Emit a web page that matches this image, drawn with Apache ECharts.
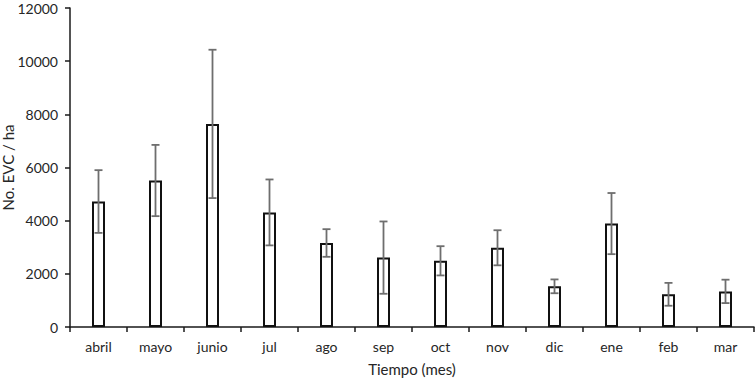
<!DOCTYPE html>
<html>
<head>
<meta charset="utf-8">
<script src="https://cdn.jsdelivr.net/npm/echarts@6/dist/echarts.min.js"></script>
<style>
  html, body { margin: 0; padding: 0; background: #fff; }
  #chart { width: 756px; height: 378px; }
</style>
</head>
<body>
<div id="chart"></div>
<script>
var months = ['abril', 'mayo', 'junio', 'jul', 'ago', 'sep', 'oct', 'nov', 'dic', 'ene', 'feb', 'mar'];
var means = [4720, 5510, 7640, 4310, 3160, 2610, 2490, 2980, 1530, 3890, 1230, 1340];
var errs = [1180, 1340, 2790, 1240, 520, 1360, 550, 660, 260, 1150, 430, 440];
var yTicks = [0, 2000, 4000, 6000, 8000, 10000, 12000];

var font = 'Lato, "Noto Sans", sans-serif';
var chart = echarts.init(document.getElementById('chart'), null, { renderer: 'svg' });

chart.setOption({
  animation: false,
  grid: { left: 70, right: 2, top: 8, bottom: 51, outerBoundsMode: 'none' },
  xAxis: {
    type: 'category',
    data: months,
    name: 'Tiempo (mes)',
    nameLocation: 'middle',
    nameGap: 34,
    nameMoveOverlap: false,
    nameTextStyle: { color: '#262626', fontSize: 15, fontFamily: font, verticalAlign: 'top' },
    axisLine: { lineStyle: { color: '#1a1a1a', width: 1.5 } },
    axisTick: { show: true, length: 5, lineStyle: { color: '#1a1a1a', width: 1.5 } },
    axisLabel: { color: '#262626', fontSize: 14, fontFamily: font, margin: 12 }
  },
  yAxis: {
    type: 'value',
    min: yTicks[0],
    max: yTicks[yTicks.length - 1],
    interval: 2000,
    name: 'No. EVC / ha',
    nameLocation: 'middle',
    nameGap: 62,
    nameMoveOverlap: false,
    nameTextStyle: { color: '#262626', fontSize: 15, fontFamily: font, verticalAlign: 'middle' },
    axisLine: { show: true, lineStyle: { color: '#1a1a1a', width: 1.5 } },
    axisTick: { show: true, length: 5, lineStyle: { color: '#1a1a1a', width: 1.5 } },
    splitLine: { show: false },
    axisLabel: {
      color: '#262626', fontSize: 14, fontFamily: font, margin: 12,
      formatter: function(v) { return String(v); }
    }
  },
  series: [
    {
      type: 'bar',
      data: means,
      barWidth: 13,
      itemStyle: { color: '#fff', borderColor: '#111', borderWidth: 2 }
    },
    {
      type: 'custom',
      data: means.map(function(m, i) { return [i, m - errs[i], m + errs[i]]; }),
      renderItem: function(params, api) {
        var lo = api.coord([api.value(0), api.value(1)]);
        var hi = api.coord([api.value(0), api.value(2)]);
        var cap = 4;
        var st = { stroke: '#6e6e6e', lineWidth: 1.8 };
        return {
          type: 'group',
          children: [
            { type: 'line', shape: { x1: hi[0], y1: hi[1], x2: lo[0], y2: lo[1] }, style: st },
            { type: 'line', shape: { x1: hi[0] - cap, y1: hi[1], x2: hi[0] + cap, y2: hi[1] }, style: st },
            { type: 'line', shape: { x1: lo[0] - cap, y1: lo[1], x2: lo[0] + cap, y2: lo[1] }, style: st }
          ]
        };
      },
      z: 5
    }
  ]
});
</script>
</body>
</html>
